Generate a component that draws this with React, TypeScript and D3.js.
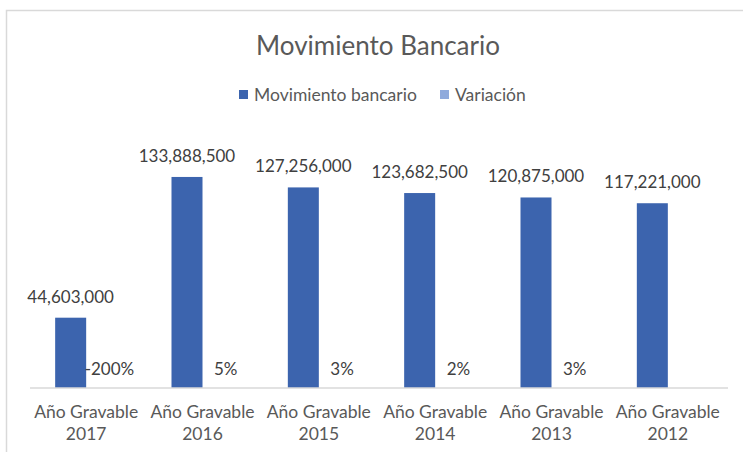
import React from 'react';
import * as d3 from 'd3';

const categories = ['2017', '2016', '2015', '2014', '2013', '2012'];
const movimiento = [44603000, 133888500, 127256000, 123682500, 120875000, 117221000];
const variacion = [-2, 0.05, 0.03, 0.02, 0.03, null];
const variacionLabels = ['-200%', '5%', '3%', '2%', '3%', ''];
const seriesNames = ['Movimiento bancario', 'Variación'];
const colors = ['#3C64AE', '#8FAADC'];

const W = 743;
const H = 452;
const font = 'Lato, "Open Sans", sans-serif';

const App = () => {
  const x = d3.scaleBand().domain(categories).range([28, 726]);
  const inner = d3.scaleBand().domain(seriesNames).range([0, x.bandwidth()]).paddingOuter(0.876);
  const y = d3.scaleLinear().domain([0, 160000000]).range([388, 135.8]);
  const fmt = d3.format(',');

  return (
    <svg width={W} height={H} style={{ position: 'absolute', left: 0, top: 0 }} fontFamily={font}>
      <rect x={0} y={0} width={W} height={H} fill="#fff" />
      <rect x={6.5} y={10.5} width={W + 10} height={H + 10} fill="none" stroke="#D9D9D9" strokeWidth={1.5} />

      <text x={378} y={55} textAnchor="middle" fontSize={26} fill="#595959">Movimiento Bancario</text>

      {/* legend */}
      <g fontSize={17.5} fill="#595959">
        <rect x={239} y={90} width={9} height={9} fill={colors[0]} />
        <text x={254} y={101}>{seriesNames[0]}</text>
        <rect x={440} y={90} width={9} height={9} fill={colors[1]} />
        <text x={455} y={101}>{seriesNames[1]}</text>
      </g>

      {/* bars */}
      {categories.map((c, i) => {
        const bx = x(c)! + inner(seriesNames[0])!;
        return (
          <rect key={'m' + c} x={bx} y={y(movimiento[i])} width={inner.bandwidth()}
            height={y(0) - y(movimiento[i])} fill={colors[0]} />
        );
      })}
      {categories.map((c, i) => {
        const v = variacion[i];
        if (v === null) return null;
        const bx = x(c)! + inner(seriesNames[1])!;
        return (
          <rect key={'v' + c} x={bx} y={y(Math.max(0, v))} width={inner.bandwidth()}
            height={Math.abs(y(v) - y(0))} fill={colors[1]} />
        );
      })}

      {/* axis */}
      <line x1={30} x2={728} y1={y(0)} y2={y(0)} stroke="#D9D9D9" strokeWidth={1.5} />

      {/* value labels */}
      <g fontSize={17} fill="#404040" textAnchor="middle">
        {categories.map((c, i) => (
          <text key={'lm' + c} x={x(c)! + inner(seriesNames[0])! + inner.bandwidth() / 2} y={y(movimiento[i]) - 15}>
            {fmt(movimiento[i])}
          </text>
        ))}
        {categories.map((c, i) => variacion[i] === null ? null : (
          <text key={'lv' + c} x={x(c)! + inner(seriesNames[1])! + inner.bandwidth() * 0.75}
            y={y(Math.max(0, variacion[i]!)) - 13}>
            {variacionLabels[i]}
          </text>
        ))}
      </g>

      {/* category labels */}
      <g fontSize={17.5} fill="#595959" textAnchor="middle">
        {categories.map((c) => (
          <text key={'c' + c} x={x(c)! + x.bandwidth() / 2} y={418}>
            <tspan x={x(c)! + x.bandwidth() / 2}>Año Gravable</tspan>
            <tspan x={x(c)! + x.bandwidth() / 2} y={440}>{c}</tspan>
          </text>
        ))}
      </g>
    </svg>
  );
};

export default App;
